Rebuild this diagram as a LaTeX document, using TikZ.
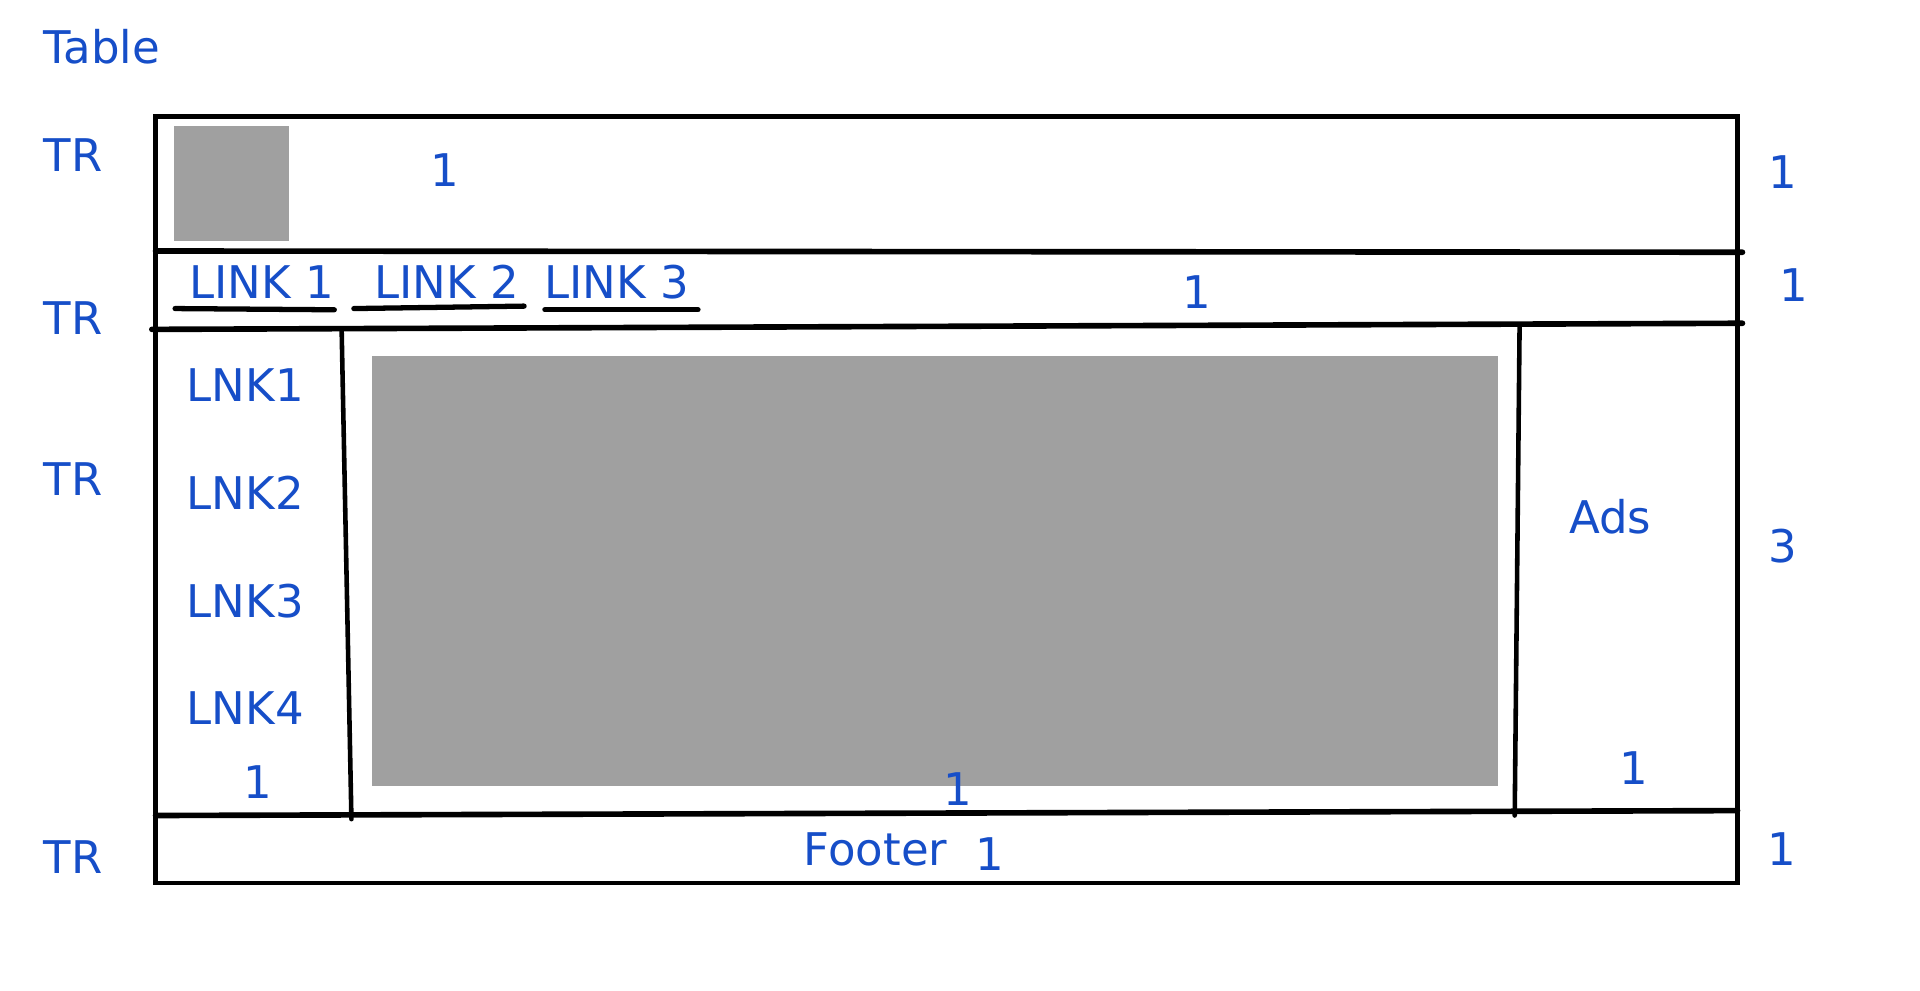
\documentclass[tikz,border=0pt]{standalone}
\usepackage{fontspec}
\setmainfont{DejaVu Sans}
\usepackage{tikz}
\usetikzlibrary{positioning}
\definecolor{labelblue}{RGB}{22,78,200}
\definecolor{boxgray}{RGB}{160,160,160}
\tikzstyle{label} = [
    anchor=base west,
    inner sep=0pt,
    text=labelblue,
    font=\fontsize{12.8}{15}\selectfont
]
\tikzstyle{frame} = [
    draw=black,
    line width=1.3pt
]
\tikzstyle{divider} = [
    draw=black,
    line width=1.6pt,
    line cap=round
]
\tikzstyle{linkline} = [
    draw=black,
    line width=1.5pt,
    line cap=round
]
\tikzstyle{placeholder} = [
    fill=boxgray,
    draw=none
]

\begin{document}
\begin{tikzpicture}[x=0.012245cm, y=-0.012245cm]
        \useasboundingbox (0,0) rectangle (1568,809);

        % Title
        \node[label] (title) at (35,52) {Table};

        % Row labels
        \node[label] (tr1) at (35,140) {TR};
        \node[label] (tr2) at (35,273) {TR};
        \node[label] (tr3) at (35,405) {TR};
        \node[label] (tr4) at (35,713) {TR};

        % Outer table
        \draw[frame] (127,95) rectangle (1419,721);

        % Row dividers
        \draw[divider] (127,205) -- (1423,206);
        \draw[divider] (124,269) -- (1423,264);
        \draw[divider] (127,666) -- (1419,662);

        % Column dividers
        \draw[frame, line cap=round] (279,269) -- (287,669);
        \draw[frame, line cap=round] (1241,265) -- (1237,666);

        % Placeholders
        \fill[placeholder] (142,103) rectangle (236,197);
        \fill[placeholder] (304,291) rectangle (1223,642);

        % Header row
        \node[label] (hdr) at (351,152) {1};

        % Navigation row
        \node[label] (link1) at (154,244) {LINK 1};
        \node[label] (link2) at (305,244) {LINK 2};
        \node[label] (link3) at (444,244) {LINK 3};
        \draw[linkline] (143,252) -- (273,253);
        \draw[linkline] (289,252) -- (428,250);
        \draw[linkline] (445,253) -- (570,253);
        \node[label] (nav) at (965,252) {1};

        % Side links
        \node[label] (lnk1) at (152,328) {LNK1};
        \node[label] (lnk2) at (152,416) {LNK2};
        \node[label] (lnk3) at (152,504) {LNK3};
        \node[label] (lnk4) at (152,592) {LNK4};
        \node[label] (side) at (198,652) {1};

        % Content and ads
        \node[label] (main) at (770,658) {1};
        \node[label] (ads) at (1281,436) {Ads};
        \node[label] (adsn) at (1322,641) {1};

        % Footer row
        \node[label] (footer) at (656,707) {Footer};
        \node[label] (footn) at (796,711) {1};

        % Row spans
        \node[label] (span1) at (1444,154) {1};
        \node[label] (span2) at (1453,246) {1};
        \node[label] (span3) at (1444,459) {3};
        \node[label] (span4) at (1443,707) {1};
    \end{tikzpicture}
\end{document}
